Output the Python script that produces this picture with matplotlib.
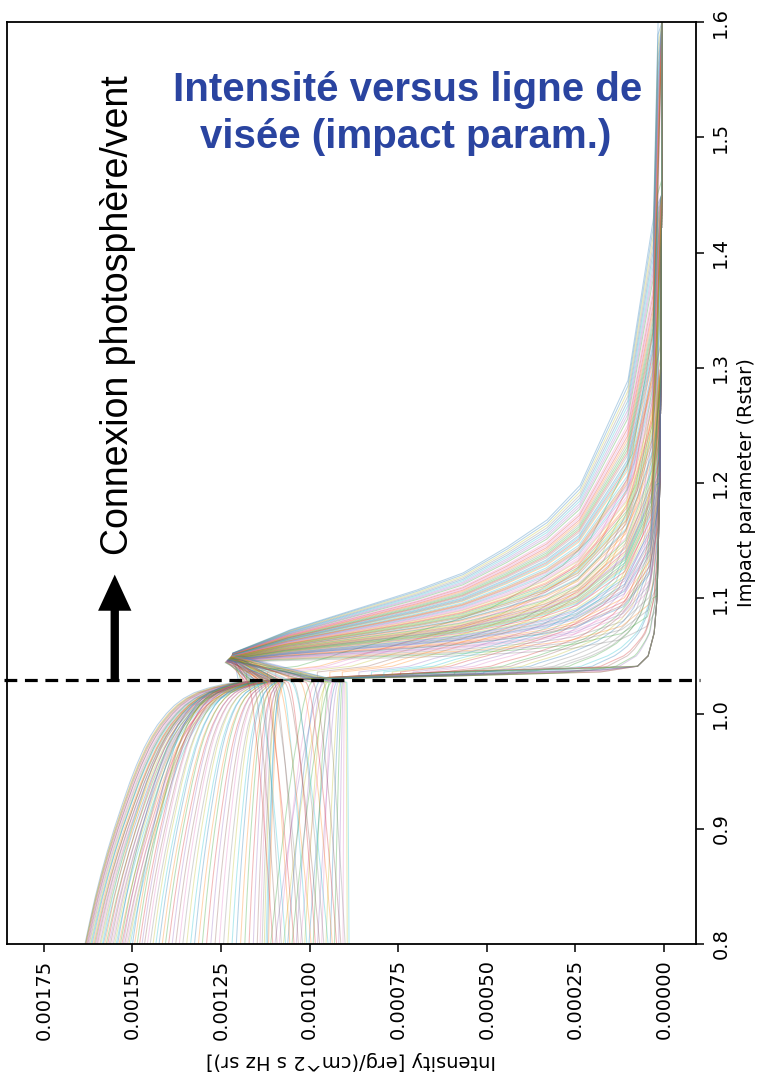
import numpy as np
import matplotlib
matplotlib.use("Agg")
import matplotlib.pyplot as plt
from matplotlib.ticker import FixedLocator, FormatStrFormatter
from matplotlib.transforms import blended_transform_factory

# ---------------------------------------------------------------------------
# Photospheric continuum across the disk (impact parameter -> intensity)
disk_b = np.array([0.80, 0.82, 0.84, 0.86, 0.88, 0.90, 0.92, 0.94, 0.955,
                   0.97, 0.98, 0.99, 1.00, 1.007, 1.013, 1.018, 1.022,
                   1.025, 1.027])
disk_cont = np.array([0.001634, 0.001618, 0.001601, 0.001582, 0.001561,
                      0.001538, 0.001513, 0.001487, 0.001465, 0.001440,
                      0.001420, 0.001396, 0.001366, 0.001340, 0.001310,
                      0.001275, 0.001230, 0.001185, 0.001140])
# Fraction of the centre-to-limb change reached by the line-core frequencies
core_shape = np.array([0.0, 0.06, 0.125, 0.19, 0.26, 0.33, 0.40, 0.48, 0.54,
                       0.61, 0.66, 0.71, 0.76, 0.80, 0.84, 0.88, 0.92, 0.96,
                       1.0])
core_edge = 0.001115

# Continuum just outside the limb
tail_b = np.array([1.029, 1.0325, 1.036, 1.041, 1.05, 1.07, 1.10, 1.20,
                   1.30, 1.45, 1.60])
tail_I = np.array([0.001100, 0.000600, 0.000180, 0.000075, 0.000045,
                   0.000028, 0.000020, 0.000012, 0.000009, 0.000007,
                   0.000006])

# Slowest-decaying wind emission (upper edge of the emission fan)
env_b = np.array([1.0525, 1.0725, 1.0924, 1.1072, 1.122, 1.1445, 1.168,
                  1.198, 1.289, 1.43, 1.60])
env_I = np.array([0.001217, 0.001056, 0.000850, 0.000697, 0.000567,
                  0.000443, 0.000330, 0.000237, 0.000102, 0.000030, 0.000017])
weak_wind_start = 1.036

# Line wings: intensity at b=0.8 and at the limb, shift of the drop at the
# limb, strength and compression of their weaker wind emission
cont_start = [0.001634, 0.001633, 0.001632, 0.001630, 0.001628, 0.001626,
              0.001624, 0.001622, 0.001619, 0.001617, 0.001614, 0.001611,
              0.001608, 0.001605, 0.001602, 0.001599, 0.001596, 0.001592,
              0.001589, 0.001585, 0.001582, 0.001578, 0.001574, 0.001570,
              0.001566, 0.001562, 0.001558, 0.001554, 0.001550, 0.001546,
              0.001542, 0.001538, 0.001534, 0.001530, 0.001526, 0.001522,
              0.001518, 0.001514, 0.001510, 0.001506]
cont_limb = [0.001210, 0.001200, 0.001195, 0.001190, 0.001180, 0.001185,
             0.001175, 0.001170, 0.001165, 0.001160, 0.001172, 0.001158,
             0.001152, 0.001163, 0.001148, 0.001155, 0.001145, 0.001150,
             0.001140, 0.001168, 0.001142, 0.001178, 0.001138, 0.001160,
             0.001135, 0.001150, 0.001130, 0.001145, 0.001140, 0.001132,
             0.001188, 0.001125, 0.001157, 0.001128, 0.001173, 0.001120,
             0.001147, 0.001118, 0.001136, 0.001115]
cont_edge_shift = [0.0, 0.003, 0.001, 0.004, 0.002, 0.0005, 0.0025, 0.0035,
                   0.0015, 0.001, 0.003, 0.0, 0.002, 0.004, 0.001, 0.0025,
                   0.0005, 0.003, 0.0015, 0.0035, 0.002, 0.0, 0.001, 0.004,
                   0.0025, 0.0015, 0.003, 0.0005, 0.002, 0.0035, 0.001,
                   0.0025, 0.0, 0.003, 0.0015, 0.004, 0.002, 0.0005, 0.0035,
                   0.001]
cont_peak_frac = [0.0, 0.62, 0.18, 0.0, 0.45, 0.08, 0.75, 0.0, 0.30, 0.55,
                  0.12, 0.0, 0.85, 0.38, 0.05, 0.68, 0.0, 0.25, 0.50, 0.15,
                  0.0, 0.80, 0.35, 0.10, 0.58, 0.0, 0.42, 0.22, 0.72, 0.0,
                  0.28, 0.65, 0.06, 0.48, 0.0, 0.33, 0.78, 0.20, 0.0, 0.52]
cont_stretch = [1.0, 1.6, 2.8, 1.0, 2.1, 3.5, 1.35, 1.0, 2.5, 1.8,
                3.1, 1.0, 1.25, 2.3, 4.0, 1.5, 1.0, 2.7, 1.95, 3.3,
                1.0, 1.4, 2.4, 3.8, 1.7, 1.0, 2.2, 2.9, 1.45, 1.0,
                2.6, 1.55, 4.2, 2.0, 1.0, 2.45, 1.3, 3.0, 1.0, 1.85]

# Line frequencies: disk intensity at b=0.8 and at the limb
line_start = [0.001500, 0.001494, 0.001487, 0.001480, 0.001473, 0.001466,
              0.001458, 0.001450, 0.001442, 0.001434, 0.001425, 0.001416,
              0.001407, 0.001398, 0.001388, 0.001378, 0.001368, 0.001358,
              0.001347, 0.001336, 0.001325, 0.001314, 0.001303, 0.001291,
              0.001279, 0.001267, 0.001255, 0.001243, 0.001231, 0.001219,
              0.001207, 0.001195, 0.001183, 0.001171, 0.001159, 0.001148,
              0.001140, 0.001134, 0.001128, 0.001123, 0.001119, 0.001116,
              0.001110, 0.001104, 0.001098, 0.001092, 0.001086, 0.001080,
              0.001074, 0.001068, 0.001062, 0.001056, 0.001050, 0.001044,
              0.001038, 0.001032, 0.001026, 0.001020, 0.001014, 0.001008,
              0.001002, 0.000996, 0.000990, 0.000984, 0.000978, 0.000972,
              0.000966, 0.000960, 0.000954, 0.000948, 0.000942, 0.000936,
              0.000930, 0.000924, 0.000918, 0.000912, 0.000906, 0.000900,
              0.000894, 0.000889]
line_limb = [0.001200, 0.001185, 0.001192, 0.001178, 0.001183, 0.001170,
             0.001176, 0.001163, 0.001168, 0.001155, 0.001160, 0.001148,
             0.001153, 0.001141, 0.001146, 0.001135, 0.001139, 0.001128,
             0.001132, 0.001122, 0.001126, 0.001116, 0.001120, 0.001110,
             0.001114, 0.001105, 0.001108, 0.001099, 0.001103, 0.001094,
             0.001097, 0.001089, 0.001092, 0.001084, 0.001087, 0.001080,
             0.001083, 0.001076, 0.001079, 0.001072, 0.001075, 0.001070,
             0.000995, 0.001175, 0.000960, 0.001160, 0.000985, 0.001140,
             0.000950, 0.001150, 0.000975, 0.001120, 0.000940, 0.001130,
             0.000965, 0.001100, 0.000930, 0.001110, 0.000955, 0.001080,
             0.000925, 0.001090, 0.000945, 0.001060, 0.000920, 0.001070,
             0.000935, 0.001045, 0.000915, 0.001050, 0.000912, 0.001025,
             0.000908, 0.001010, 0.000905, 0.000990, 0.000902, 0.000960,
             0.000898, 0.000895]
# Compression of the wind emission and impact parameter of its maximum
line_stretch = [1.00, 2.45, 1.33, 4.6, 1.12, 2.9, 1.71, 6.8, 1.04, 2.12,
                3.6, 1.48, 9.5, 1.25, 2.66, 1.59, 5.4, 1.29, 3.25, 1.95,
                1.40, 7.6, 1.16, 2.55, 4.1, 1.55, 2.28, 12.0, 1.76, 3.0,
                1.08, 4.35, 1.88, 1.21, 3.45, 2.05, 6.1, 1.37, 2.38, 1.64,
                5.0, 1.81, 2.75, 1.44, 3.85, 2.0, 1.19, 8.4, 2.6, 1.52,
                1.02, 2.2, 1.31, 3.1, 1.67, 4.85, 1.23, 2.48, 1.92, 1.10,
                3.35, 1.57, 2.83, 1.35, 5.7, 2.15, 1.74, 1.06, 2.95, 1.46,
                3.95, 1.27, 2.32, 1.84, 1.14, 2.7, 1.61, 3.7, 1.98, 1.42]
line_peak_b = [1.0525, 1.0482, 1.0508, 1.0458, 1.0519, 1.0472, 1.0498, 1.0450,
               1.0523, 1.0487, 1.0464, 1.0503, 1.0444, 1.0514, 1.0477, 1.0500,
               1.0453, 1.0512, 1.0467, 1.0491, 1.0506, 1.0447, 1.0517, 1.0480,
               1.0461, 1.0501, 1.0485, 1.0441, 1.0496, 1.0470, 1.0521, 1.0459,
               1.0493, 1.0516, 1.0465, 1.0489, 1.0451, 1.0507, 1.0483, 1.0499,
               1.0455, 1.0495, 1.0475, 1.0504, 1.0462, 1.0490, 1.0516, 1.0446,
               1.0478, 1.0502, 1.0524, 1.0486, 1.0510, 1.0469, 1.0498, 1.0456,
               1.0515, 1.0481, 1.0492, 1.0520, 1.0466, 1.0500, 1.0473, 1.0508,
               1.0452, 1.0487, 1.0497, 1.0522, 1.0471, 1.0503, 1.0462, 1.0513,
               1.0484, 1.0494, 1.0518, 1.0476, 1.0499, 1.0463, 1.0490, 1.0505]

x_ticks = [0.00175, 0.00150, 0.00125, 0.00100, 0.00075, 0.00050, 0.00025, 0.0]
y_ticks = [0.8, 0.9, 1.0, 1.1, 1.2, 1.3, 1.4, 1.5, 1.6]
limb_connection = 1.029

# ---------------------------------------------------------------------------
limb_shape = (disk_cont[0] - disk_cont) / (disk_cont[0] - disk_cont[-1])
env_excess = env_I - np.interp(env_b, tail_b, tail_I)


def disk_part(start, limb):
    shape = core_shape if start < core_edge else limb_shape
    return start + (limb - start) * shape


def emission(b, peak_b, stretch):
    arg = env_b[0] + np.maximum(b - peak_b, 0.0) * stretch
    return np.interp(arg, env_b, env_excess, right=0.0)


def wing_part(shift, frac, stretch):
    edge = (tail_b > limb_connection) & (tail_b < 1.04)
    band_b = np.where(edge, tail_b + shift, tail_b)
    nodes = np.concatenate([band_b, np.linspace(limb_connection, 1.07, 42),
                            weak_wind_start + (env_b - env_b[0]) / stretch])
    nodes = np.unique(nodes[(nodes >= limb_connection) & (nodes <= 1.6)])
    band = np.interp(nodes, band_b, tail_I)
    far = np.interp(np.maximum(nodes, weak_wind_start), tail_b, tail_I)
    wind = far + frac * emission(nodes, weak_wind_start, stretch)
    return nodes, np.maximum(band, wind)


def line_part(peak_b, stretch):
    nodes = np.concatenate([[peak_b], peak_b + (env_b - env_b[0]) / stretch,
                            tail_b[tail_b > peak_b]])
    nodes = np.unique(nodes[nodes <= 1.6])
    return nodes, np.interp(nodes, tail_b, tail_I) + emission(nodes, peak_b,
                                                              stretch)


curves = []
for s, l, d, f, k in zip(cont_start, cont_limb, cont_edge_shift,
                         cont_peak_frac, cont_stretch):
    wb, wi = wing_part(d, f, k)
    curves.append((s, np.concatenate([disk_b, wb]),
                   np.concatenate([disk_part(s, l), wi])))
for s, l, k, p in zip(line_start, line_limb, line_stretch, line_peak_b):
    wb, wi = line_part(p, k)
    curves.append((s, np.concatenate([disk_b, wb]),
                   np.concatenate([disk_part(s, l), wi])))
curves.sort(key=lambda c: -c[0])

fig = plt.figure(figsize=(7.61, 10.78), dpi=100)
ax = fig.add_axes([7 / 761, 1 - 944 / 1078, 689 / 761, 922 / 1078])

colors = plt.rcParams["axes.prop_cycle"].by_key()["color"]
for n, (_, b, i) in enumerate(curves):
    ax.plot(i, b, color=colors[n % len(colors)], lw=0.75, alpha=0.32)

ax.set_xlim(0.001854, -0.00009)
ax.set_ylim(0.8, 1.6)

ax.yaxis.tick_right()
ax.yaxis.set_label_position("right")
ax.xaxis.set_major_locator(FixedLocator(x_ticks))
ax.xaxis.set_major_formatter(FormatStrFormatter("%.5f"))
ax.yaxis.set_major_locator(FixedLocator(y_ticks))
ax.yaxis.set_major_formatter(FormatStrFormatter("%.1f"))
ax.tick_params(axis="both", length=6, width=1.1, pad=5, labelsize=14)
for lab in ax.get_xticklabels():
    lab.set_rotation(90)
for lab in ax.get_yticklabels():
    lab.set_rotation(90)
    lab.set_verticalalignment("center")
for sp in ax.spines.values():
    sp.set_linewidth(1.3)

ax.set_xlabel("Intensity [erg/(cm^2 s Hz sr)]", fontsize=14, rotation=180,
              labelpad=8)
ax.set_ylabel("Impact parameter (Rstar)", fontsize=14, rotation=90,
              labelpad=5)

# Photosphere / wind connection
trans = blended_transform_factory(ax.transAxes, ax.transData)
ax.plot([-0.004, 1.006], [limb_connection, limb_connection], transform=trans,
        color="black", lw=2.3, linestyle=(0, (4, 2.4)), clip_on=False,
        zorder=5)
ax.annotate("", xy=(0.00155, 1.1205), xytext=(0.00155, limb_connection),
            arrowprops=dict(arrowstyle="simple,head_length=1.3,head_width=1.2,tail_width=0.3",
                            mutation_scale=20, fc="black", ec="black", lw=0,
                            shrinkA=0, shrinkB=0), zorder=6)
fig.text(118 / 761, 1 - 315 / 1078, "Connexion photosphère/vent",
         rotation=90, ha="center", va="center", fontsize=27,
         family=["Liberation Sans", "DejaVu Sans"])

title_kw = dict(ha="center", va="baseline", fontsize=29, fontweight="bold",
                color="#2a44a0", family=["Liberation Sans", "DejaVu Sans"])
fig.text(408 / 761, 1 - 101 / 1078, "Intensité versus ligne de", **title_kw)
fig.text(406 / 761, 1 - 148 / 1078, "visée (impact param.)", **title_kw)

fig.savefig("out.png", dpi=100)
